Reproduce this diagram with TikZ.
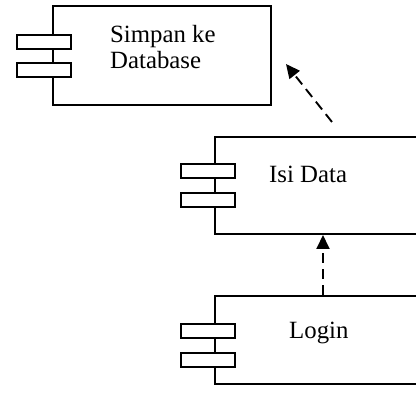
\documentclass[tikz,border=0pt]{standalone}
\usepackage{fontspec}
\setmainfont{Liberation Serif}
\usetikzlibrary{arrows.meta}
\begin{document}
\begin{tikzpicture}[x=1pt,y=-1pt,
  comp/.style={draw,line width=2pt,inner sep=0pt,anchor=north west},
  tab/.style={draw,fill=white,line width=1.6pt,minimum width=54pt,minimum height=14pt,inner sep=0pt,anchor=north west},
  lbl/.style={anchor=base west,inner sep=0pt,font=\fontsize{24.8}{27}\selectfont},
  dep/.style={line width=1.9pt,dash pattern=on 10pt off 6pt,-{Triangle[length=14pt,width=13pt]}}]
\useasboundingbox (0,0) rectangle (416,393);
\clip (0,0) rectangle (416,393);
% component boxes
\node[comp,minimum width=218pt,minimum height=99pt] (b1) at (52,5) {};
\node[comp,minimum width=216pt,minimum height=97pt] (b2) at (214,136) {};
\node[comp,minimum width=216pt,minimum height=88pt] (b3) at (214,295) {};
% tabs
\node[tab] (b1t1) at (16,34) {};
\node[tab] (b1t2) at (16,62) {};
\node[tab] (b2t1) at (180,163) {};
\node[tab] (b2t2) at (180,192) {};
\node[tab] (b3t1) at (180,323) {};
\node[tab] (b3t2) at (180,352) {};
% labels
\node[lbl] (l1a) at (110,43) {Simpan ke};
\node[lbl] (l1b) at (110,69) {Database};
\node[lbl] (l2) at (269,183) {Isi Data};
\node[lbl] (l3) at (289,339) {Login};
% dependencies
\coordinate (a1s) at (332,122);
\coordinate (a1e) at (286,64);
\draw[dep] (a1s) -- (a1e);
\draw[dep] (b3.north) -- (b2.south);
\end{tikzpicture}
\end{document}
